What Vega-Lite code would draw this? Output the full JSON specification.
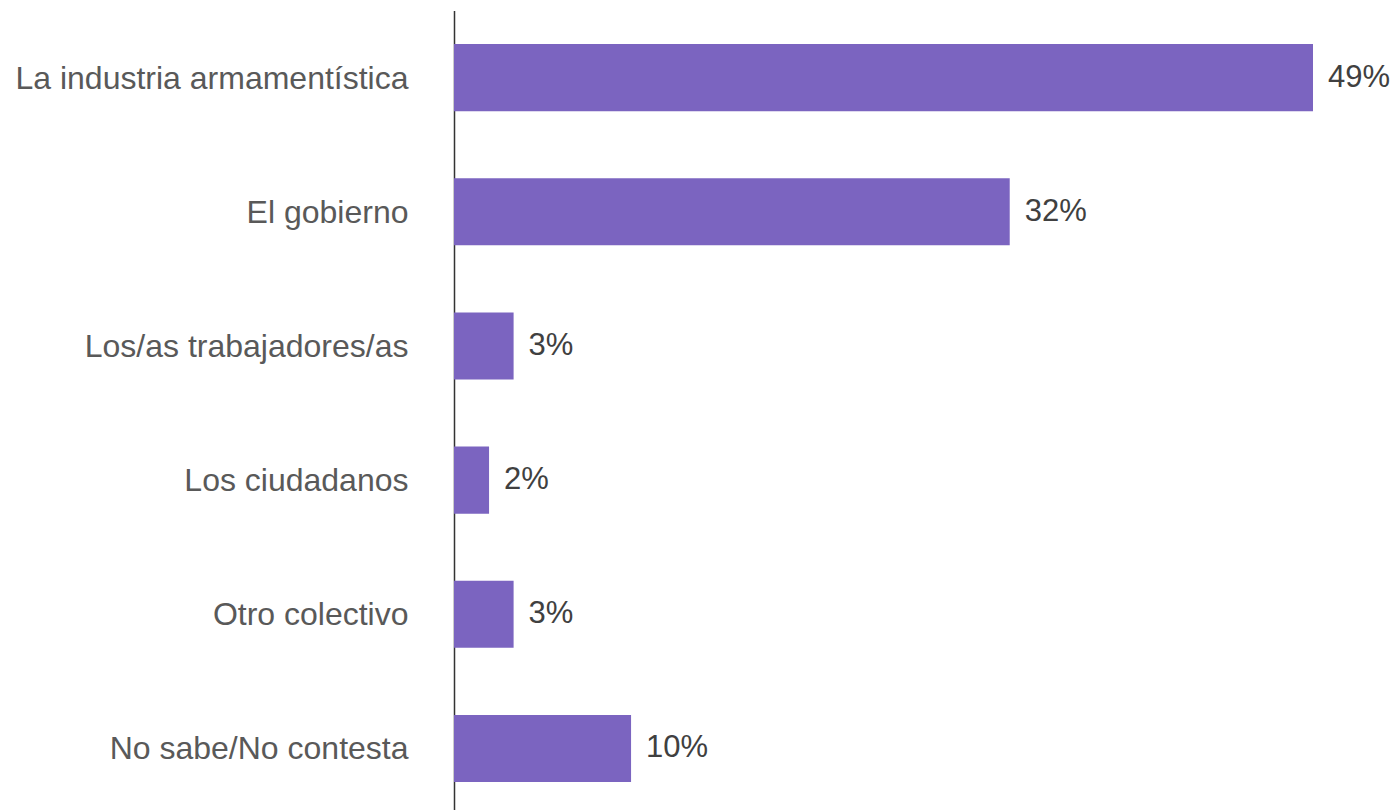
{
  "$schema": "https://vega.github.io/schema/vega-lite/v6.json",
  "width": 859,
  "height": 805,
  "autosize": {"type": "none"},
  "padding": {"left": 454, "top": 10.5, "right": 86, "bottom": 0},
  "background": "white",
  "config": {"view": {"stroke": null}, "font": "Liberation Sans"},
  "data": {
    "values": [
      {"categoria": "La industria armamentística", "valor": 49.0, "etiqueta": "49%"},
      {"categoria": "El gobierno", "valor": 31.7, "etiqueta": "32%"},
      {"categoria": "Los/as trabajadores/as", "valor": 3.4, "etiqueta": "3%"},
      {"categoria": "Los ciudadanos", "valor": 2.0, "etiqueta": "2%"},
      {"categoria": "Otro colectivo", "valor": 3.4, "etiqueta": "3%"},
      {"categoria": "No sabe/No contesta", "valor": 10.1, "etiqueta": "10%"}
    ]
  },
  "encoding": {
    "y": {
      "field": "categoria",
      "type": "nominal",
      "sort": null,
      "scale": {"paddingInner": 0.5, "paddingOuter": 0.25},
      "axis": {
        "title": null,
        "ticks": false,
        "domain": true,
        "domainColor": "#333333",
        "domainWidth": 1.5,
        "labelFont": "Liberation Sans",
        "labelFontSize": 32,
        "labelColor": "#595959",
        "labelPadding": 46,
        "labelLimit": 500,
        "labelOffset": 1
      }
    },
    "x": {
      "field": "valor",
      "type": "quantitative",
      "scale": {"domain": [0, 49], "nice": false, "zero": true},
      "axis": null
    }
  },
  "layer": [
    {"mark": {"type": "bar", "color": "#7B64C0"}},
    {
      "mark": {"type": "text", "align": "left", "baseline": "middle", "dx": 15, "font": "Liberation Sans", "fontSize": 31, "color": "#404040"},
      "encoding": {"text": {"field": "etiqueta"}}
    }
  ]
}
